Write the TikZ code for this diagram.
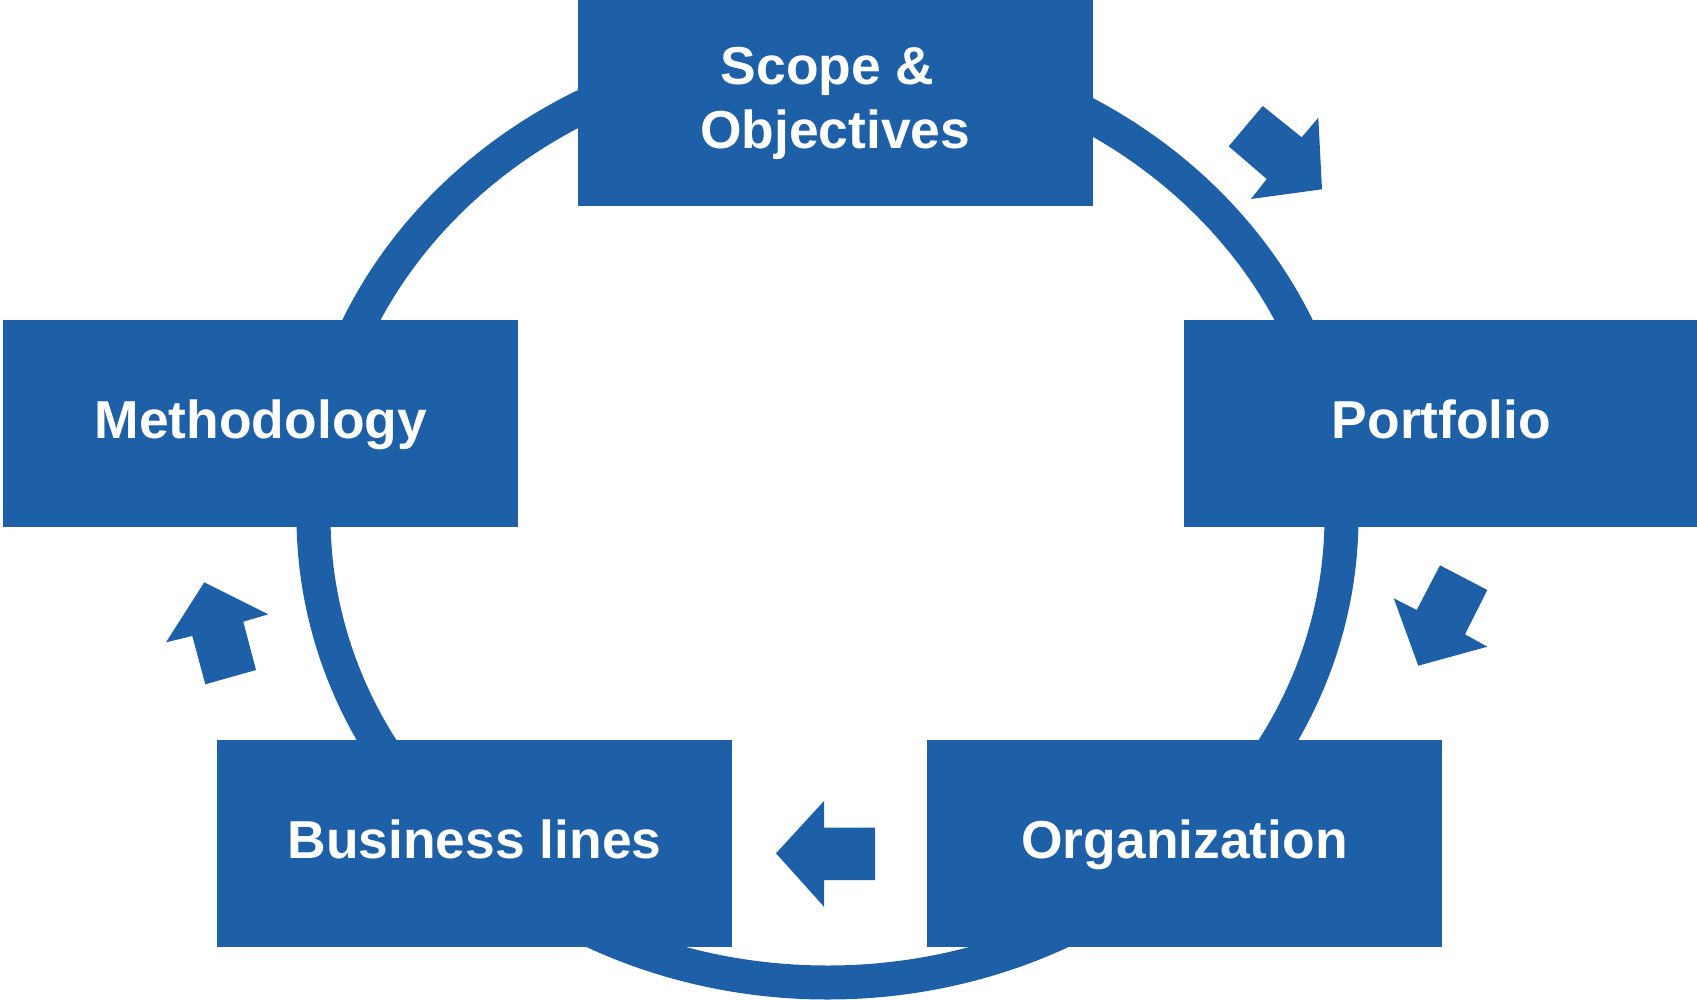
\documentclass[tikz,border=0pt]{standalone}
\usepackage{fontspec}
\setmainfont{Liberation Sans}
\definecolor{cycblue}{RGB}{29,96,167}
\begin{document}
\begin{tikzpicture}[x=1pt,y=-1pt,
  box/.style={fill=cycblue, draw=none, minimum width=515pt, minimum height=206.5pt, inner sep=0pt},
  lbl/.style={text=white, anchor=base, inner sep=0pt, font=\fontsize{53.4}{64}\selectfont\bfseries},
  shiftarrow/.style={fill=cycblue, draw=none}]
\useasboundingbox (0,0) rectangle (1697,1000);
% ring
\coordinate (ringc) at (827.5,516.5);
\draw[cycblue, line width=34pt] (ringc) ellipse [x radius=514pt, y radius=466pt];
% boxes
\node[box] (scope) at (835.2,102.3) {};
\node[box] (meth) at (260.8,423.4) {};
\node[box] (port) at (1441.5,423.4) {};
\node[box] (bus) at (474.6,843.7) {};
\node[box] (org) at (1184.6,843.7) {};
% labels
\node[lbl] (scopeA) at (827.6,84.4) {Scope \&};
\node[lbl] (scopeB) at (835.2,148.3) {Objectives};
\node[lbl] (methT) at (260.8,438.3) {Methodology};
\node[lbl] (portT) at (1441.5,438.3) {Portfolio};
\node[lbl] (busT) at (474.6,858.3) {Business lines};
\node[lbl] (orgT) at (1184.6,858.3) {Organization};
% block arrows
\fill[shiftarrow] (1262.7,106) -- (1301.7,137.3) -- (1318.3,117.7) -- (1322,189.3)
  -- (1251,199) -- (1266.7,179) -- (1228.7,146.3) -- cycle;
\fill[shiftarrow] (1440,565.3) -- (1487.3,590) -- (1465,634.3) -- (1487.3,646.7)
  -- (1418.3,665.7) -- (1393.7,598.3) -- (1416.7,610) -- cycle;
\fill[shiftarrow] (776,853.3) -- (824,801) -- (824,827.7) -- (875,827.7)
  -- (875,880) -- (824,880) -- (824,906.7) -- cycle;
\fill[shiftarrow] (204.3,582.3) -- (268.3,614.3) -- (243.3,621.7) -- (256,670)
  -- (205.3,684.3) -- (192.3,636) -- (166,642.3) -- cycle;
\end{tikzpicture}
\end{document}
